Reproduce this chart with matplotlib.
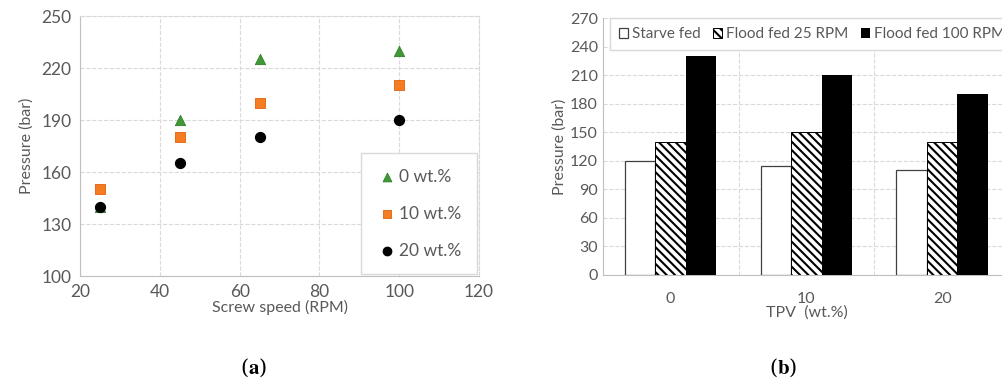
import numpy as np
import matplotlib
matplotlib.use("Agg")
import matplotlib.pyplot as plt

plt.rcParams['font.family'] = ['Lato', 'DejaVu Sans']
plt.rcParams['mathtext.fontset'] = 'stix'
plt.rcParams['hatch.linewidth'] = 1.5

# (a) pressure vs screw speed
speed = [25, 45, 65, 100]
p_0wt = [140, 190, 225, 230]
p_10wt = [150, 180, 200, 210]
p_20wt = [140, 165, 180, 190]

# (b) pressure vs TPV content
tpv = ['0', '10', '20']
starve = [120, 115, 110]
flood25 = [140, 150, 140]
flood100 = [230, 210, 190]

txt = '#595959'
grid = '#d9d9d9'

fig = plt.figure(figsize=(10.03, 3.85), dpi=100)

# ---- panel (a)
ax = fig.add_axes([0.0798, 0.283, 0.3978, 0.675])
ax.scatter(speed, p_0wt, marker='^', s=55, color='#3f9a35', edgecolors='#2f7d28', linewidths=0.6, label='0 wt.%', zorder=3)
ax.scatter(speed, p_10wt, marker='s', s=45, color='#f57c20', edgecolors='#e0600f', linewidths=0.6, label='10 wt.%', zorder=3)
ax.scatter(speed, p_20wt, marker='o', s=50, color='black', label='20 wt.%', zorder=4)
ax.set_xlim(20, 120)
ax.set_ylim(100, 250)
ax.set_xticks(np.arange(20, 121, 20))
ax.set_yticks(np.arange(100, 251, 30))
ax.grid(True, color=grid, linestyle='--', linewidth=0.8)
ax.set_axisbelow(True)
for s in ['top', 'right']:
    ax.spines[s].set_linestyle('--')
    ax.spines[s].set_color(grid)
for s in ['left', 'bottom']:
    ax.spines[s].set_color('#bfbfbf')
ax.tick_params(length=0, labelsize=12.5, colors=txt, pad=6)
ax.set_xlabel('Screw speed (RPM)', fontsize=11.5, color=txt, labelpad=0)
ax.set_ylabel('Pressure (bar)', fontsize=11.5, color=txt, labelpad=6)
leg = ax.legend(loc='lower right', fontsize=12.5, labelspacing=1.2, handletextpad=0.1,
                handlelength=1.2, borderpad=0.9, fancybox=False, framealpha=1,
                borderaxespad=0.1, markerscale=0.85)
leg.get_frame().set_edgecolor('#d9d9d9')
for t in leg.get_texts():
    t.set_color(txt)

# ---- panel (b)
bx = fig.add_axes([0.601, 0.286, 0.406, 0.667])
x = np.arange(len(tpv))
w = 0.225
bx.bar(x - w, starve, w, color='white', edgecolor='#404040', linewidth=0.9, label='Starve fed', zorder=3)
bx.bar(x, flood25, w, color='white', edgecolor='black', hatch='\\\\\\\\', linewidth=0.7, label='Flood fed 25 RPM', zorder=3)
bx.bar(x + w, flood100, w, color='black', label='Flood fed 100 RPM', zorder=3)
bx.set_xlim(-0.5, 2.5)
bx.set_ylim(0, 270)
bx.set_xticks(x)
bx.set_xticklabels(tpv)
bx.set_yticks(np.arange(0, 271, 30))
bx.set_xticks([0.5, 1.5], minor=True)
bx.grid(True, axis='y', color=grid, linestyle='--', linewidth=0.8)
bx.grid(True, axis='x', which='minor', color=grid, linestyle='--', linewidth=0.8)
bx.set_axisbelow(True)
for s in ['top', 'right']:
    bx.spines[s].set_visible(False)
for s in ['left', 'bottom']:
    bx.spines[s].set_color('#bfbfbf')
bx.tick_params(which='both', length=0, labelsize=11.5, colors=txt)
bx.tick_params(axis='x', pad=12)
bx.set_xlabel('TPV  (wt.%)', fontsize=11.5, color=txt, labelpad=0)
bx.set_ylabel('Pressure (bar)', fontsize=11.5, color=txt, labelpad=2)
leg2 = bx.legend(loc='upper left', ncol=3, fontsize=11, handlelength=0.6, handleheight=0.6,
                 handletextpad=0.25, columnspacing=0.8, fancybox=False, framealpha=1,
                 borderaxespad=0.0, bbox_to_anchor=(0.018, 1.0), borderpad=0.6)
leg2.get_frame().set_edgecolor('#d9d9d9')
for t in leg2.get_texts():
    t.set_color(txt)

fig.text(0.2525, 0.045, r'($\mathbf{a}$)', fontsize=15, ha='center', va='center', family='serif')
fig.text(0.781, 0.045, r'($\mathbf{b}$)', fontsize=15, ha='center', va='center', family='serif')

fig.savefig('out.png', dpi=100)
